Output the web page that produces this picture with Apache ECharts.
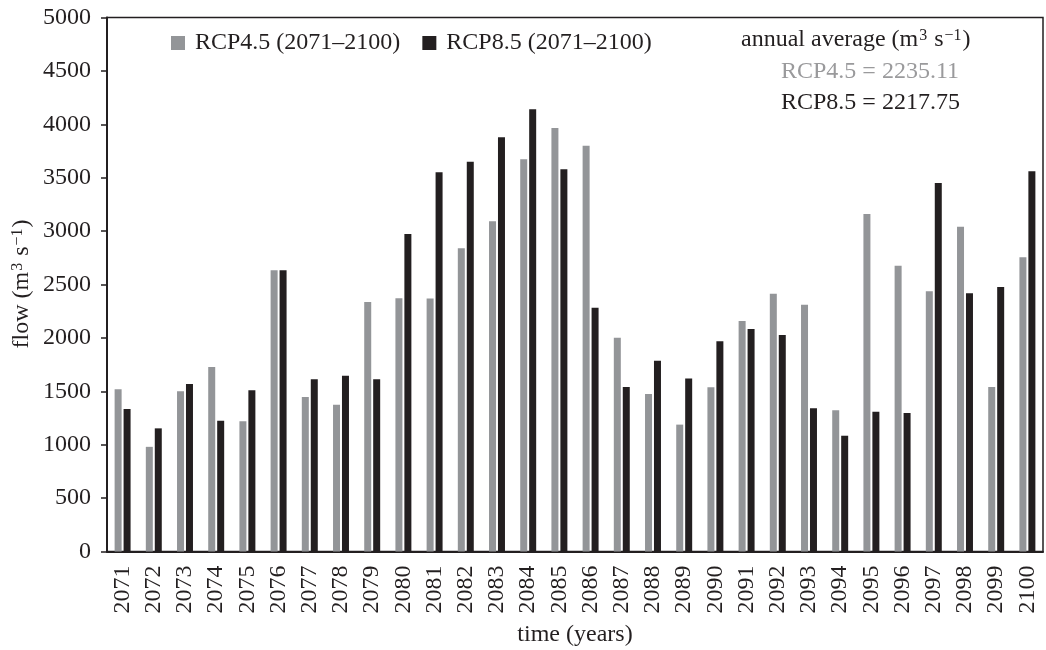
<!DOCTYPE html>
<html>
<head>
<meta charset="utf-8">
<script src="https://cdn.jsdelivr.net/npm/echarts@6/dist/echarts.min.js"></script>
<style>
  html, body { margin: 0; padding: 0; background: #fff; }
  #chart { width: 1046px; height: 650px; }
</style>
</head>
<body>
<div id="chart"></div>
<script>
// Annual mean river flow per year, two emission scenarios
const years = ['2071','2072','2073','2074','2075','2076','2077','2078','2079','2080',
               '2081','2082','2083','2084','2085','2086','2087','2088','2089','2090',
               '2091','2092','2093','2094','2095','2096','2097','2098','2099','2100'];
const rcp45 = [1520, 980, 1500, 1727, 1220, 2633, 1447, 1375, 2335, 2372,
               2370, 2840, 3092, 3672, 3965, 3800, 2002, 1475, 1188, 1537,
               2158, 2414, 2311, 1322, 3160, 2676, 2436, 3041, 1540, 2755];
const rcp85 = [1334, 1153, 1568, 1225, 1509, 2633, 1612, 1646, 1612, 2973,
               3550, 3650, 3878, 4140, 3579, 2283, 1540, 1787, 1621, 1968,
               2083, 2027, 1341, 1084, 1309, 1297, 3450, 2418, 2477, 3560];
const yTicks = { min: 0, max: 5000, step: 500 };

const FONT = '"Liberation Serif", "Times New Roman", serif';
const INK = '#231f20';
const GREY = '#939598';

const chart = echarts.init(document.getElementById('chart'), null, { renderer: 'canvas' });

const sup = { fontSize: 16, fontFamily: FONT, verticalAlign: 'top', lineHeight: 16, padding: [0, 1, 9, 1] };

chart.setOption({
  animation: false,
  backgroundColor: '#fff',
  textStyle: { fontFamily: FONT },
  grid: {
    left: 107, right: 3, top: 17.5, bottom: 98.5,
    show: true, borderColor: INK, borderWidth: 1.5, backgroundColor: 'transparent'
  },
  legend: {
    left: 166, top: 26,
    itemWidth: 14, itemHeight: 14, itemGap: 22,
    icon: 'rect',
    textStyle: { fontFamily: FONT, fontSize: 24, color: INK, padding: [0, 0, 0, 5] },
    data: ['RCP4.5 (2071–2100)', 'RCP8.5 (2071–2100)']
  },
  xAxis: {
    type: 'category',
    data: years,
    axisLine: { lineStyle: { color: INK, width: 2 } },
    axisTick: { alignWithLabel: true, length: 6, lineStyle: { color: INK, width: 1.5 } },
    axisLabel: { rotate: 90, interval: 0, margin: 14, fontFamily: FONT, fontSize: 24, color: INK }
  },
  yAxis: {
    type: 'value',
    min: yTicks.min, max: yTicks.max, interval: yTicks.step,
    splitLine: { show: false },
    axisLine: { show: true, lineStyle: { color: INK, width: 2 } },
    axisTick: { show: true, length: 6, lineStyle: { color: INK, width: 1.5 } },
    axisLabel: { margin: 16, fontFamily: FONT, fontSize: 24, color: INK, formatter: v => String(v) }
  },
  series: [
    {
      name: 'RCP4.5 (2071–2100)', type: 'bar', data: rcp45,
      barWidth: 7, barGap: '28%',
      itemStyle: { color: GREY }
    },
    {
      name: 'RCP8.5 (2071–2100)', type: 'bar', data: rcp85,
      barWidth: 7, barGap: '28%',
      itemStyle: { color: INK }
    }
  ],
  graphic: [
    {
      type: 'text', left: 741, top: 28,
      style: {
        text: 'annual average (m{sup|3} s{sup|−1})',
        font: '24px ' + FONT, fill: INK,
        rich: { sup: Object.assign({ fill: INK }, sup) }
      }
    },
    {
      type: 'text', left: 781, top: 60,
      style: { text: 'RCP4.5 = 2235.11', font: '24px ' + FONT, fill: '#9a9a9c' }
    },
    {
      type: 'text', left: 781, top: 91,
      style: { text: 'RCP8.5 = 2217.75', font: '24px ' + FONT, fill: INK }
    },
    {
      type: 'text', x: 22, y: 284, rotation: Math.PI / 2,
      style: {
        text: 'flow (m{sup|3} s{sup|−1})',
        font: '24px ' + FONT, fill: INK, align: 'center', verticalAlign: 'middle',
        rich: { sup: Object.assign({ fill: INK }, sup) }
      }
    },
    {
      type: 'text', x: 575, y: 635,
      style: { text: 'time (years)', font: '24px ' + FONT, fill: INK, align: 'center', verticalAlign: 'middle' }
    }
  ]
});
</script>
</body>
</html>
